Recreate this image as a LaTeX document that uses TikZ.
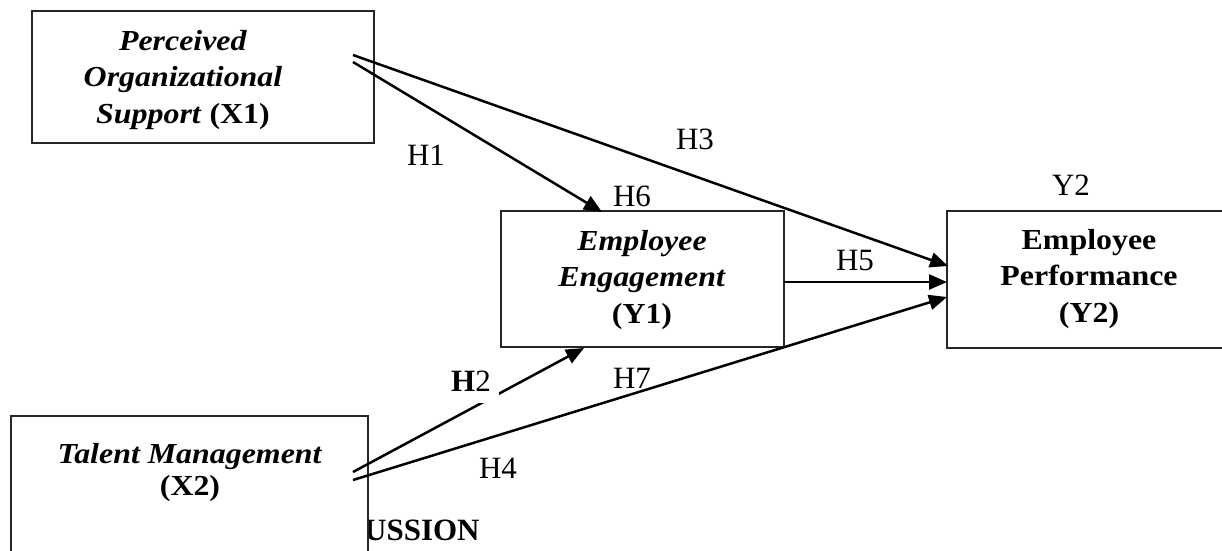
\documentclass[tikz,border=0pt]{standalone}
\usepackage{fontspec}
\setmainfont{Liberation Serif}
\newfontfamily\boxfont[FakeStretch=1.1]{Liberation Serif}
\usetikzlibrary{arrows.meta}
\begin{document}
\begin{tikzpicture}[x=1pt,y=-1pt,
  box/.style={draw=black!85, line width=1.3pt, fill=white, inner sep=0pt},
  boxtext/.style={align=center, font=\boxfont\fontsize{29}{36.5}\selectfont\bfseries, inner sep=0pt, anchor=base},
  lab/.style={font=\fontsize{31}{36}\selectfont, inner sep=0pt, anchor=base},
  arr/.style={line width=2.5pt, -{Triangle[length=18pt,width=15pt]}}]
\useasboundingbox (0,0) rectangle (1222,550);
\clip (0,0) rectangle (1222,550);
% partly hidden heading
\node[font=\fontsize{31}{36}\selectfont\bfseries, inner sep=0pt, anchor=base west] (usn) at (364,540) {USSION};
% boxes
\node[box, minimum width=342, minimum height=132] (x1) at (203,77) {};
\node[box, minimum width=283, minimum height=136] (y1) at (642.5,279) {};
\node[box, minimum width=284, minimum height=137] (y2) at (1089,279.5) {};
\node[box, minimum width=357, minimum height=204] (x2) at (189.5,518) {};
% box texts (anchor base = last line)
\node[boxtext] (x1t) at (183,123) {\textit{Perceived}\\ \textit{Organizational}\\ \textit{Support} (X1)};
\node[boxtext] (y1t) at (642,323) {\textit{Employee}\\ \textit{Engagement}\\ (Y1)};
\node[boxtext] (y2t) at (1089,322) {Employee\\ Performance\\ (Y2)};
\node[boxtext] (x2t) at (190,495) {\textit{Talent Management}\\[-4.5pt] (X2)};
% connector end points
\coordinate (s3) at (353,55);
\coordinate (s1) at (353,62);
\coordinate (s2) at (353,472);
\coordinate (s7) at (353,480);
\coordinate (e1) at (602,212);
\coordinate (e2) at (584,348);
\coordinate (e3) at (948,266);
\coordinate (s5) at (784,282);
\coordinate (e5) at (947,282);
\coordinate (e7) at (947,297);
% connectors
\draw[arr] (s1) -- (e1);
\draw[arr] (s3) -- (e3);
\draw[arr] (s5) -- (e5);
\draw[arr] (s2) -- (e2);
\draw[arr] (s7) -- (e7);
% labels
\node[lab] (h1) at (426,165) {H1};
\node[lab] (h6) at (632,206) {H6};
\node[lab] (h3) at (695,149) {H3};
\node[lab] (h5) at (855,270) {H5};
\node[lab] (y2l) at (1071,195) {Y2};
\node[lab, fill=white, inner xsep=8pt, inner ysep=12pt] (h2) at (471,391) {\textbf{H}2};
\node[lab] (h7) at (632,388) {H7};
\node[lab] (h4) at (498,478) {H4};
\end{tikzpicture}
\end{document}
